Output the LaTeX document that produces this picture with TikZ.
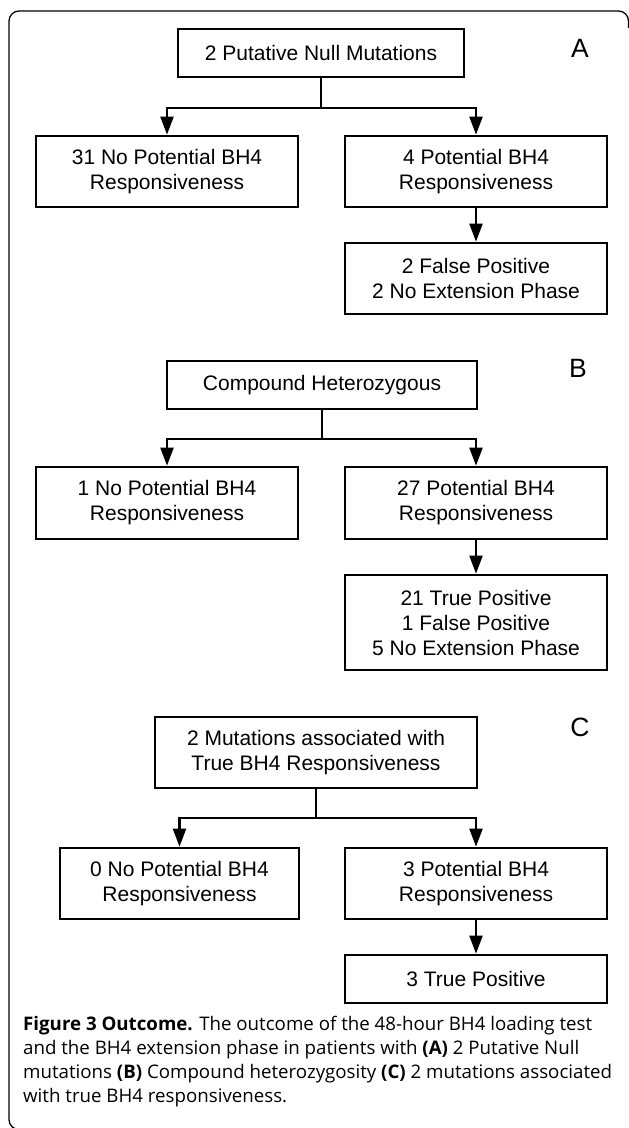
\documentclass[tikz,border=0pt]{standalone}
\usepackage{fontspec}
\usepackage{tikz}
\usetikzlibrary{arrows.meta}
\setmainfont{Liberation Sans}
\newfontfamily\capfont{Open Sans}

\begin{document}
\begin{tikzpicture}[x=1pt,y=-1pt,
	box/.style={shape=rectangle,draw=black,line width=2.7pt,inner sep=0pt,align=center,font=\fontsize{21}{25}\selectfont},
	arrow/.style={line width=2.2pt,-{Triangle[length=18pt,width=13pt]}},
	panel/.style={font=\fontsize{26.5}{30}\selectfont}]
	\useasboundingbox (0,0) rectangle (629,1128);
	\draw[line width=1.3pt,rounded corners=10pt] (628.5,28) -- (628.5,11) -- (9,11) -- (9,1129.5) -- (60,1129.5);

	% A
	\node[box,minimum width=286pt,minimum height=48pt] (a0) at (321,53)    {2 Putative Null Mutations};
	\node[box,minimum width=262pt,minimum height=71pt] (a1) at (167,171.5) {31 No Potential BH4\\Responsiveness};
	\node[box,minimum width=262pt,minimum height=71pt] (a2) at (476,171.5) {4 Potential BH4\\Responsiveness};
	\node[box,minimum width=262pt,minimum height=71pt] (a3) at (476,278.5) {2 False Positive\\2 No Extension Phase};
	\node[panel] (la) at (580,48) {A};

	\draw[arrow] (a0.south) -- ++(0,30) -| (a1.north);
	\draw[arrow] (a0.south) -- ++(0,30) -| (a2.north);
	\path[arrow] (a2) edge (a3);

	% B
	\node[box,minimum width=310pt,minimum height=48pt] (b0) at (322,385)   {Compound Heterozygous};
	\node[box,minimum width=262pt,minimum height=72pt] (b1) at (167,503)   {1 No Potential BH4\\Responsiveness};
	\node[box,minimum width=262pt,minimum height=72pt] (b2) at (476,503)   {27 Potential BH4\\Responsiveness};
	\node[box,minimum width=262pt,minimum height=95pt] (b3) at (476,622.5) {21 True Positive\\1 False Positive\\5 No Extension Phase};
	\node[panel] (lb) at (578,368) {B};

	\draw[arrow] (b0.south) -- ++(0,29) -| (b1.north);
	\draw[arrow] (b0.south) -- ++(0,29) -| (b2.north);
	\path[arrow] (b2) edge (b3);

	% C
	\node[box,minimum width=322pt,minimum height=71pt] (c0) at (316,752.5)   {2 Mutations associated with\\True BH4 Responsiveness};
	\node[box,minimum width=239pt,minimum height=71pt] (c1) at (179.5,883.5) {0 No Potential BH4\\Responsiveness};
	\node[box,minimum width=262pt,minimum height=71pt] (c2) at (476,883.5)   {3 Potential BH4\\Responsiveness};
	\node[box,minimum width=262pt,minimum height=48pt] (c3) at (476,979)     {3 True Positive};
	\node[panel] (lc) at (580,727) {C};

	\draw[arrow] (c0.south) -- ++(0,29) -| (c1.north);
	\draw[arrow] (c0.south) -- ++(0,29) -| (c2.north);
	\path[arrow] (c2) edge (c3);

	\node[anchor=north west,inner sep=0pt,align=left,font=\capfont\fontsize{18.7}{24}\selectfont] (cap) at (23,1016)
		{\textbf{Figure 3 Outcome.} The outcome of the 48-hour BH4 loading test\\
		and the BH4 extension phase in patients with \textbf{(A)} 2 Putative Null\\
		mutations \textbf{(B)} Compound heterozygosity \textbf{(C)} 2 mutations associated\\
		with true BH4 responsiveness.};
\end{tikzpicture}
\end{document}
